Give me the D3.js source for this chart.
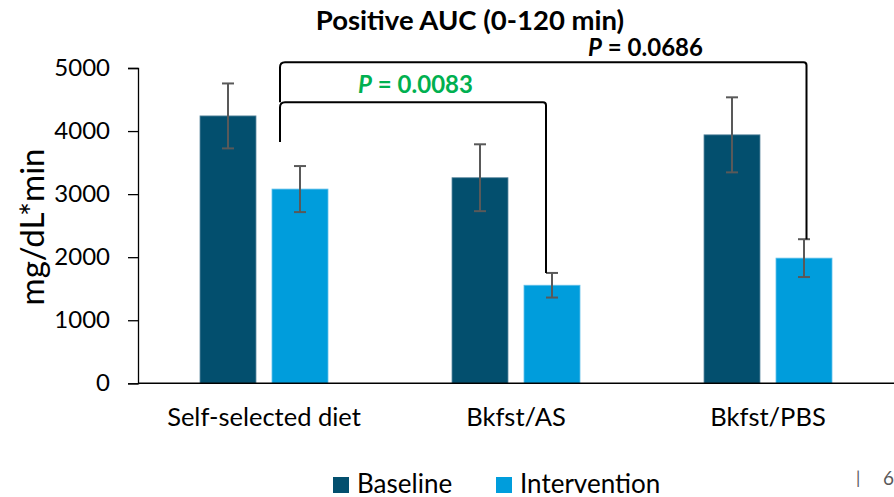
<!DOCTYPE html>
<html><head><meta charset="utf-8">
<script src="https://cdn.jsdelivr.net/npm/d3@7"></script>
<style>
html,body{margin:0;padding:0;background:#fff;}
svg{display:block;font-family:Lato,"Open Sans",sans-serif;}
</style></head>
<body>
<svg id="chart" width="894" height="497"></svg>
<script>
const categories = ["Self-selected diet", "Bkfst/AS", "Bkfst/PBS"];
const seriesNames = ["Baseline", "Intervention"];
const baselineValues = [4240, 3260, 3940];
const interventionValues = [3080, 1555, 1985];
const baselineErrors = [515, 530, 595];
const interventionErrors = [365, 195, 300];
const yTickValues = [0, 1000, 2000, 3000, 4000, 5000];
const comparisonLabels = ["0.0083", "0.0686"];
const comparisonTargets = [1, 2];
const comparisonLevels = [4455, 5090];

(function () {
const colors = {Baseline: "#034F6E", Intervention: "#009DDC"};
const svg = d3.select("#chart");
const mLeft = 138, mRight = 894, mTop = 68, mBottom = 383.3;

const x0 = d3.scaleBand().domain(categories).range([mLeft, mRight]).paddingInner(0).paddingOuter(0);
const x1 = d3.scaleBand().domain(seriesNames).range([62, 190]).paddingInner(16 / 72).paddingOuter(0);
const y = d3.scaleLinear().domain([0, 5000]).range([mBottom, mTop]);

const rows = categories.map((c, i) => ({
  cat: c,
  vals: [
    {s: "Baseline", v: baselineValues[i], e: baselineErrors[i]},
    {s: "Intervention", v: interventionValues[i], e: interventionErrors[i]}
  ]
}));

const g = svg.append("g");
const grp = g.selectAll("g.cat").data(rows).join("g").attr("class", "cat").attr("transform", d => `translate(${x0(d.cat)},0)`);
grp.selectAll("rect").data(d => d.vals).join("rect")
  .attr("x", d => x1(d.s)).attr("width", x1.bandwidth())
  .attr("y", d => y(d.v)).attr("height", d => y(0) - y(d.v))
  .attr("fill", d => colors[d.s])
  .attr("stroke", d => d.s === "Baseline" ? "#5f8aa0" : "#62c0ea").attr("stroke-width", 0.8);

const eb = grp.selectAll("g.err").data(d => d.vals).join("g").attr("class", "err");
const cx = d => x1(d.s) + x1.bandwidth() / 2;
eb.append("line").attr("x1", cx).attr("x2", cx)
  .attr("y1", d => y(d.v + d.e)).attr("y2", d => y(d.v - d.e));
eb.append("line").attr("x1", d => cx(d) - 6).attr("x2", d => cx(d) + 6)
  .attr("y1", d => y(d.v + d.e)).attr("y2", d => y(d.v + d.e));
eb.append("line").attr("x1", d => cx(d) - 6).attr("x2", d => cx(d) + 6)
  .attr("y1", d => y(d.v - d.e)).attr("y2", d => y(d.v - d.e));
eb.selectAll("line").attr("stroke", "#595959").attr("stroke-width", 2);

const yAxis = svg.append("g").attr("transform", `translate(${mLeft},0)`)
  .call(d3.axisLeft(y).tickValues(yTickValues).tickSize(10).tickPadding(18).tickFormat(d3.format("d")));
yAxis.select(".domain").attr("stroke", "#000").attr("stroke-width", 1.3);
yAxis.selectAll(".tick line").attr("stroke", "#000").attr("stroke-width", 1.3);
yAxis.selectAll(".tick text").attr("font-size", 24).attr("fill", "#000").attr("font-family", "Lato");

svg.append("line").attr("x1", mLeft).attr("x2", mRight).attr("y1", y(0)).attr("y2", y(0))
  .attr("stroke", "#000").attr("stroke-width", 1.5);

svg.selectAll("text.catlab").data(categories).join("text").attr("class", "catlab")
  .attr("x", d => x0(d) + x0.bandwidth() / 2).attr("y", 426)
  .attr("text-anchor", "middle").attr("font-size", 25.5).attr("fill", "#000").text(d => d);

svg.append("text").attr("x", 470).attr("y", 30).attr("text-anchor", "middle")
  .attr("font-size", 27.5).attr("font-weight", "bold").text("Positive AUC (0-120 min)");

svg.append("text").attr("transform", "translate(44,227) rotate(-90)").attr("text-anchor", "middle")
  .attr("font-size", 33).text("mg/dL*min");

const srcX = x0(categories[0]) + x1("Intervention") + x1.bandwidth() / 2 - 20;
const tgtOffsets = [-6, 2.5];
const r = 5;
comparisonTargets.forEach((t, i) => {
  const tx = x0(categories[t]) + x1("Intervention") + x1.bandwidth() / 2 + tgtOffsets[i];
  const ty = y(comparisonLevels[i]);
  const endY = y(interventionValues[t] + interventionErrors[t]);
  const startY = i === 0 ? y(interventionValues[0] + interventionErrors[0]) - 24 : y(comparisonLevels[0]);
  const p = d3.path();
  p.moveTo(srcX, startY);
  p.lineTo(srcX, ty + r);
  p.quadraticCurveTo(srcX, ty, srcX + r, ty);
  p.lineTo(tx - 3, ty);
  p.quadraticCurveTo(tx, ty, tx, ty + 3);
  p.lineTo(tx, endY);
  svg.append("path").attr("d", p.toString()).attr("fill", "none").attr("stroke", "#000").attr("stroke-width", 2);
});

const pColors = ["#00B050", "#000"];
const pX = [415.5, 645.5];
const pY = [93, 56];
comparisonLabels.forEach((lab, i) => {
  const t = svg.append("text").attr("x", pX[i]).attr("y", pY[i]).attr("text-anchor", "middle")
    .attr("font-size", 24).attr("font-weight", "bold").attr("fill", pColors[i]);
  t.append("tspan").attr("font-style", "italic").text("P");
  t.append("tspan").text(" = " + lab);
});

const legX = [333, 496];
seriesNames.forEach((s, i) => {
  svg.append("rect").attr("x", legX[i]).attr("y", 477).attr("width", 16).attr("height", 16).attr("fill", colors[s]);
  svg.append("text").attr("x", legX[i] + 24).attr("y", 493).attr("font-size", 26).attr("fill", "#000").text(s);
});

svg.append("text").attr("x", 856).attr("y", 484).attr("font-size", 17).attr("fill", "#595959").text("|");
svg.append("text").attr("x", 883).attr("y", 485).attr("font-size", 19).attr("fill", "#595959").text("6");
})();
</script>
</body></html>
